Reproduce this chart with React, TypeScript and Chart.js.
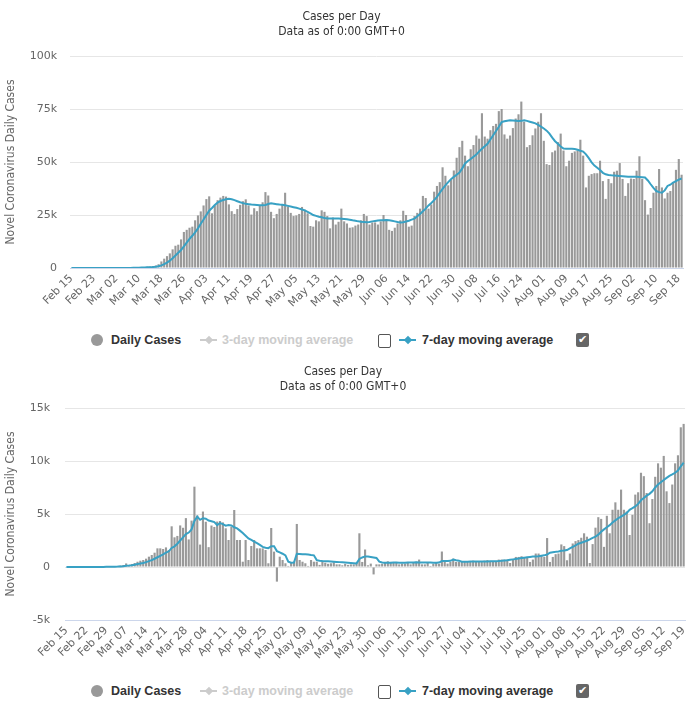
import React, { useEffect, useRef } from "react";
import { Chart, registerables } from "chart.js";

Chart.register(...registerables);

// ---- data (Feb 15 .. Sep 19, one value per day) ----
const usDaily = [
  // Feb
  0, 0, 0, 0, 0, 0, 2, 0, 0, 0, 0, 1, 1, 2, 6,
  // Mar
  8, 23, 20, 33, 73, 58, 120, 135, 180, 290, 420, 450, 590, 680, 940, 1210, 1780, 3100, 4400, 5600,
  6900, 8800, 10500, 11000, 13500, 17000, 18000, 19000, 19500, 22500, 24800,
  // Apr
  26700, 29500, 32500, 33800, 25800, 29500, 32000, 33200, 34000, 33700, 30000, 26800, 25500, 27800, 29800,
  31500, 32400, 29500, 25200, 28200, 26800, 29500, 31000, 35800, 34200, 26500, 23500, 25500, 28000, 30000,
  // May
  35500, 29000, 26000, 24500, 24800, 25500, 28800, 27500, 25800, 19800, 19500, 22500, 22000, 27200, 26500,
  24500, 18700, 23800, 20500, 21800, 28000, 22000, 21000, 19000, 19200, 20000, 20500, 22500, 25500, 24500, 20500,
  // Jun
  21500, 21500, 20500, 22000, 25000, 23000, 18000, 17500, 19000, 21000, 22500, 27000, 25000, 19500, 20000,
  24500, 26000, 28000, 34000, 33000, 28000, 30000, 36000, 38700, 40500, 47500, 43500, 39000, 41500, 46000,
  // Jul
  52000, 57000, 60000, 53000, 48000, 56000, 58000, 62500, 61000, 73000, 62000, 61000, 65000, 67000, 68000,
  74000, 75000, 63000, 61000, 62500, 66000, 70500, 72500, 78500, 69000, 57000, 58000, 62600, 65800, 69000, 73000,
  // Aug
  60000, 49000, 48600, 54600, 55400, 59400, 63400, 55400, 48000, 50600, 54300, 55000, 55400, 60500, 53000,
  38000, 43500, 44300, 44700, 44700, 50600, 41000, 32600, 42000, 40000, 45400, 45900, 49500, 42000, 34000, 40000,
  // Sep
  42200, 42000, 45900, 52700, 42000, 32000, 25200, 28300, 35500, 38700, 46700, 38000, 32800, 35500, 36300,
  40300, 46300, 51400, 44000,
];

const usAvg7 = [
  0, 0, 0, 0, 0, 0, 0, 0, 0, 0, 0, 0, 0, 1, 2,
  3, 5, 8, 12, 22, 28, 46, 63, 88, 128, 183, 237, 304, 383, 480, 620, 850, 1250, 1830, 2560,
  3460, 4580, 5910, 7210, 8490, 10200, 12000, 13700, 15200, 16800, 18700,
  20900, 22900, 25000, 27000, 28300, 29700, 30900, 31600, 32100, 32400, 32700, 32400, 32000, 31500, 31000,
  30600, 30300, 30100, 29900, 29800, 29700, 29600, 29600, 29700, 30200, 30500, 30300, 30100, 29900, 29800,
  29600, 29300, 29000, 28700, 28400, 28000, 27600, 27200, 26500, 25800, 25000, 24600, 24200, 23900, 23600,
  23400, 23300, 23300, 23400, 23300, 23200, 23100, 23000, 22800, 22500, 22300, 22000, 21800, 21700, 21600, 21700,
  22000, 22200, 22400, 22500, 22500, 22600, 22500, 22300, 22000, 21700, 21500, 21600, 21900, 22300, 22800,
  23300, 24400, 25500, 26800, 28000, 29500, 30700, 32000, 33500, 35500, 37300, 39000, 40500, 41900, 43000,
  44000, 45000, 47000, 49300, 50500, 51400, 52500, 53500, 55000, 56200, 57400, 58600, 60600, 62600, 64600,
  66600, 68800, 69200, 69500, 69700, 69600, 69500, 69300, 69400, 69700, 69400, 69000, 68600, 68200, 67500, 66700,
  65800, 64800, 63400, 61500, 59800, 58600, 57300, 56300, 56200, 56200, 56200, 56100, 55800, 55300, 54900,
  53600, 51800, 49800, 48300, 47300, 46200, 44900, 44200, 43900, 43700, 43600, 43500, 43400, 43300, 43200, 43100,
  43000, 43000, 43000, 42900, 42800, 42700, 41300, 39500, 37800, 36300, 35800, 35500, 36600, 38700, 39300,
  40300, 41000, 41700, 42200,
];

const frDaily = [
  0, 0, 0, 0, 0, 0, 0, 0, 0, 0, 2, 4, 20, 19, 43,
  30, 61, 21, 73, 138, 190, 336, 177, 286, 372, 497, 595, 660, 786, 975, 1130, 1350, 1760, 1760, 1700,
  1850, 1600, 3838, 2800, 2931, 3922, 3700, 4611, 2600, 4376, 7578,
  4861, 2116, 5233, 4267, 1873, 3912, 3777, 4286, 4342, 4210, 3650, 2550, 3800, 5380, 2550,
  2550, 500, 2550, 660, 1980, 2550, 1760, 1760, 1760, 1600, 350, 3680, 1450, -1380, 975,
  660, 350, 100, 450, 500, 4060, 660, 500, 350, 100, 660, 500, 500, 200, 500,
  400, 300, 350, 450, 250, 250, 160, 300, 200, 250, 250, 400, 3180, 476, 1650, 160,
  320, -700, 250, 250, 300, 400, 540, 476, 380, 476, 250, 320, 320, 476, 250,
  400, 500, 700, 250, 250, 380, 100, 300, 450, 300, 1460, 476, 320, 476, 794,
  476, 476, 476, 500, 550, 476, 600, 500, 476, 476, 600, 650, 500, 476, 550,
  700, 700, 700, 700, 380, 700, 950, 950, 1016, 950, 950, 476, 700, 1270, 1270, 1100,
  950, 2730, 476, 950, 1210, 1270, 2130, 1970, 635, 1270, 2220, 2440, 2540, 2760, 3180,
  2860, 380, 2160, 3710, 4700, 4540, 1900, 4830, 3180, 5400, 6100, 5400, 7300, 5400, 5240, 3020,
  4920, 6830, 7050, 8890, 8570, 6980, 4130, 6410, 8510, 9780, 9370, 10480, 7140, 6030, 7780,
  9780, 10540, 13180, 13500,
];

const frAvg7 = [
  0, 0, 0, 0, 0, 0, 0, 0, 0, 0, 0, 1, 4, 6, 13,
  17, 25, 27, 37, 55, 80, 120, 140, 175, 222, 273, 331, 381, 460, 550, 650, 780, 920, 1060, 1200,
  1350, 1480, 1800, 1950, 2200, 2500, 2800, 3100, 3250, 3550, 4350,
  4750, 4450, 4600, 4550, 4380, 4320, 4230, 3950, 4150, 4050, 3900, 3960, 3920, 3750, 3640,
  3430, 3200, 2950, 2700, 2560, 2400, 2250, 2080, 1900, 1820, 1780, 1960, 1950, 1500, 1380,
  1250, 1100, 500, 400, 420, 1250, 1230, 1200, 1200, 1170, 1130, 1100, 650, 600, 570,
  550, 540, 520, 500, 480, 460, 440, 420, 400, 380, 360, 340, 760, 900, 1000, 1000,
  950, 900, 850, 500, 420, 400, 390, 400, 420, 430, 410, 400, 400, 420, 430,
  430, 440, 420, 420, 430, 430, 420, 400, 410, 420, 560, 560, 570, 580, 700,
  640, 600, 500, 490, 500, 510, 510, 520, 520, 520, 530, 530, 540, 540, 550,
  560, 580, 610, 640, 680, 720, 760, 800, 840, 880, 920, 950, 980, 1000, 1010, 1060,
  1100, 1180, 1350, 1400, 1430, 1470, 1530, 1560, 1600, 1750, 1900, 2050, 2200, 2290, 2380,
  2480, 2600, 2750, 2860, 3050, 3330, 3550, 3750, 3950, 4190, 4400, 4600, 4760, 4920, 5100, 5400,
  5550, 5715, 5950, 6290, 6500, 6730, 6900, 7140, 7500, 7780, 8000, 8200, 8410, 8600, 8730,
  8890, 9100, 9500, 9840,
];

// category labels, one per day from Feb 15 2020
const MONTHS = ["Jan", "Feb", "Mar", "Apr", "May", "Jun", "Jul", "Aug", "Sep", "Oct", "Nov", "Dec"];
const FIRST_DAY = Date.UTC(2020, 1, 15);
const dayLabels = usDaily.map((_, i) => {
  const d = new Date(FIRST_DAY + i * 86400000);
  return `${MONTHS[d.getUTCMonth()]} ${String(d.getUTCDate()).padStart(2, "0")}`;
});

const BAR = "#999999";
const LINE = "#38a1c4";
const AXIS_TEXT = "#666666";
const TICK_FONT = { family: '"DejaVu Sans", sans-serif', size: 11 };
const TITLE_FONT = { family: '"DejaVu Sans Condensed", "DejaVu Sans", sans-serif', size: 12, weight: "normal" as const };
const W = 697;

const fmtK = (v: number | string) => {
  const n = Number(v);
  return n === 0 ? "0" : `${n / 1000}k`;
};

type PanelProps = {
  daily: number[];
  avg: number[];
  yMin: number;
  yMax: number;
  yStep: number;
  labelEvery: number;
  height: number;
  plotLeft: number;
  plotRight: number;
  plotTop: number;
  plotBottom: number;
  tickPad: number;
};

const CasesChart: React.FC<PanelProps> = (p) => {
  const canvasRef = useRef<HTMLCanvasElement | null>(null);
  const chartRef = useRef<Chart | null>(null);

  useEffect(() => {
    if (!canvasRef.current) return;
    const ctx = canvasRef.current.getContext("2d");
    if (!ctx) return;

    chartRef.current = new Chart(ctx, {
      type: "bar",
      data: {
        labels: dayLabels,
        datasets: [
          {
            type: "line",
            label: "7-day moving average",
            data: p.avg,
            borderColor: LINE,
            borderWidth: 2,
            pointRadius: 0,
            tension: 0,
            order: 0,
          },
          {
            type: "bar",
            label: "Daily Cases",
            data: p.daily,
            backgroundColor: BAR,
            barPercentage: 0.75,
            categoryPercentage: 1,
            order: 1,
          },
        ],
      },
      options: {
        responsive: false,
        animation: false,
        layout: { padding: { left: 0, right: W - p.plotRight, top: 0, bottom: 0 } },
        plugins: {
          legend: { display: false },
          tooltip: { enabled: false },
          title: {
            display: true,
            text: "Cases per Day",
            color: "#333333",
            font: TITLE_FONT,
            padding: { top: 10, bottom: 0 },
          },
          subtitle: {
            display: true,
            text: "Data as of 0:00 GMT+0",
            color: "#333333",
            font: TITLE_FONT,
            padding: { top: 0, bottom: p.plotTop - 38.8 },
          },
        },
        scales: {
          x: {
            grid: { display: false, drawTicks: false },
            border: { display: true, color: "#ccd6eb" },
            ticks: {
              autoSkip: false,
              maxRotation: 45,
              minRotation: 45,
              padding: 4,
              color: AXIS_TEXT,
              font: TICK_FONT,
              callback: function (this: any, val: any, i: number) {
                return i % p.labelEvery === 0 ? this.getLabelForValue(val) : "";
              },
            },
            afterFit: (s: any) => {
              s.height = p.height - p.plotBottom;
            },
          },
          y: {
            min: p.yMin,
            max: p.yMax,
            grid: { color: "#e6e6e6", drawTicks: false },
            border: { display: false },
            ticks: {
              stepSize: p.yStep,
              padding: p.tickPad,
              color: AXIS_TEXT,
              font: TICK_FONT,
              callback: (v: any) => fmtK(v),
            },
            title: {
              display: true,
              text: "Novel Coronavirus Daily Cases",
              color: AXIS_TEXT,
              font: TITLE_FONT,
              padding: { top: 4, bottom: 0 },
            },
            afterFit: (s: any) => {
              s.width = p.plotLeft;
            },
          },
        },
      },
    });

    return () => {
      if (chartRef.current) {
        chartRef.current.destroy();
        chartRef.current = null;
      }
    };
  }, [p]);

  return <canvas ref={canvasRef} width={W} height={p.height} style={{ display: "block" }} />;
};

const diamond = (color: string, left: number) => (
  <div
    style={{
      position: "absolute",
      left,
      top: 12,
      width: 6,
      height: 6,
      background: color,
      transform: "rotate(45deg)",
    }}
  />
);

const Legend: React.FC = () => {
  const text: React.CSSProperties = {
    position: "absolute",
    top: 0,
    lineHeight: "30px",
    whiteSpace: "nowrap",
  };
  return (
    <div
      style={{
        position: "relative",
        height: 30,
        width: W,
        fontFamily: '"Liberation Sans", Arial, sans-serif',
        fontWeight: "bold",
        fontSize: 12.5,
      }}
    >
      <div style={{ position: "absolute", left: 91, top: 9, width: 12, height: 12, borderRadius: "50%", background: BAR }} />
      <span style={{ ...text, left: 111, color: "#333" }}>Daily Cases</span>

      <div style={{ position: "absolute", left: 200, top: 14, width: 17, height: 2, background: "#cccccc" }} />
      {diamond("#cccccc", 205.5)}
      <span style={{ ...text, left: 222, color: "#cccccc" }}>3-day moving average</span>
      <div
        style={{
          position: "absolute",
          left: 378,
          top: 9,
          width: 11,
          height: 12,
          border: "1px solid #555",
          borderRadius: 2,
          background: "#fff",
        }}
      />

      <div style={{ position: "absolute", left: 399, top: 14, width: 17, height: 2, background: LINE }} />
      {diamond(LINE, 404.5)}
      <span style={{ ...text, left: 422, color: "#333" }}>7-day moving average</span>
      <div
        style={{
          position: "absolute",
          left: 576,
          top: 8,
          width: 13,
          height: 14,
          borderRadius: 2,
          background: "#666",
          color: "#fff",
          fontFamily: '"DejaVu Sans", sans-serif',
          fontSize: 11,
          lineHeight: "14px",
          textAlign: "center",
        }}
      >
        ✔
      </div>
    </div>
  );
};

const usPanel: PanelProps = {
  daily: usDaily,
  avg: usAvg7,
  yMin: 0,
  yMax: 100000,
  yStep: 25000,
  labelEvery: 8,
  height: 325,
  plotLeft: 70,
  plotRight: 683,
  plotTop: 56,
  plotBottom: 268,
  tickPad: 13,
};

const frPanel: PanelProps = {
  daily: frDaily,
  avg: frAvg7,
  yMin: -5000,
  yMax: 15000,
  yStep: 5000,
  labelEvery: 7,
  height: 321,
  plotLeft: 65,
  plotRight: 686,
  plotTop: 53,
  plotBottom: 265,
  tickPad: 15,
};

export default function App() {
  useEffect(() => {
    document.body.style.margin = "0";
    document.body.style.background = "#ffffff";
  }, []);

  return (
    <div style={{ width: W, background: "#fff" }}>
      <CasesChart {...usPanel} />
      <Legend />
      <CasesChart {...frPanel} />
      <Legend />
    </div>
  );
}
